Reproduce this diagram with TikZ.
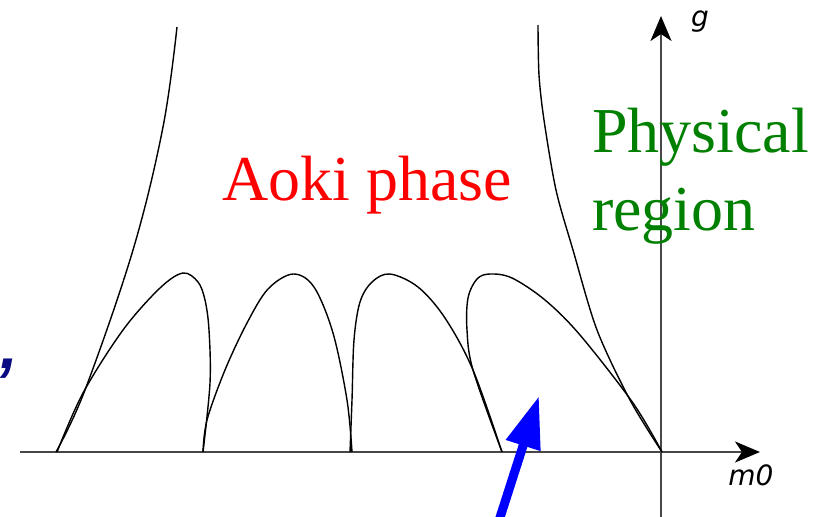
\documentclass[tikz,border=0pt]{standalone}
\usepackage{fontspec}
\setmainfont{Liberation Serif}
\newfontfamily\axisfont{DejaVu Sans}
\newfontfamily\commafont{Liberation Sans}
\usetikzlibrary{arrows.meta, positioning}
\definecolor{navyblue}{RGB}{10,10,130}
\definecolor{physgreen}{RGB}{0,128,0}

\begin{document}
\begin{tikzpicture}[
    x=1pt, y=-1pt,
    curve/.style={line width=1.4pt, color=black, line join=round},
    axis/.style={line width=2.4pt, color=black!72,
                 -{Stealth[length=25pt, width=21pt, inset=7pt, color=black]}},
    axislabel/.style={font=\axisfont\itshape\fontsize{28}{30}\selectfont,
                      text=black, inner sep=0pt},
    bigtext/.style={font=\fontsize{64}{78}\selectfont, inner sep=0pt, align=left},
    pointer/.style={line width=9pt, color=blue, -{Triangle[length=52pt, width=34pt]}}
]
\useasboundingbox (0,0) rectangle (823,517);

% Axes
\coordinate (xstart) at (20,452);
\coordinate (xend) at (760,452);
\coordinate (ystart) at (661,530);
\coordinate (yend) at (661,16);
\draw[axis] (xstart) -- (xend);
\draw[axis] (ystart) -- (yend);
\node[axislabel, anchor=base] (glab) at (700,26) {g};
\node[axislabel, anchor=base] (mlab) at (751,485) {m0};

% Outer boundaries
\draw[curve] plot[smooth, tension=0.6] coordinates
    {(56,452) (85,390) (133,250) (163,127) (177,27)};
\draw[curve] plot[smooth, tension=0.5] coordinates
    {(538,25) (539,75) (544,120) (556,190) (573,250) (597,330) (630,400) (662,452)};

% Aoki arches
\draw[curve] plot[smooth, tension=0.55] coordinates
    {(57,452) (83,393) (123,330) (160,288) (183,273) (198,282) (205,300) (209,330) (210,383) (203,452)};
\draw[curve] plot[smooth, tension=0.55] coordinates
    {(203,452) (207,420) (225,370) (247,323) (268,289) (293,274) (314,287) (333,333) (347,400) (352,452)};
\draw[curve] plot[smooth, tension=0.55] coordinates
    {(350,452) (352,400) (354,340) (360,302) (372,282) (390,274) (418,287) (445,318) (473,370) (502,452)};
\draw[curve] plot[smooth, tension=0.55] coordinates
    {(502,452) (473,370) (467,330) (468,298) (477,279) (490,274) (512,278) (545,300) (580,335) (633,403) (662,452)};

% Labels
\node[bigtext, text=red, anchor=base west] (aoki) at (222,200) {Aoki phase};
\node[bigtext, text=physgreen, anchor=base west] (phys) at (592,230) {Physical\\region};
\node[bigtext, text=navyblue, anchor=base west] (comma) at (0,368) {\commafont\bfseries\itshape ,};

% Pointer
\coordinate (ptail) at (496,530);
\coordinate (phead) at (539,396);
\draw[pointer] (ptail) -- (phead);
\end{tikzpicture}
\end{document}
